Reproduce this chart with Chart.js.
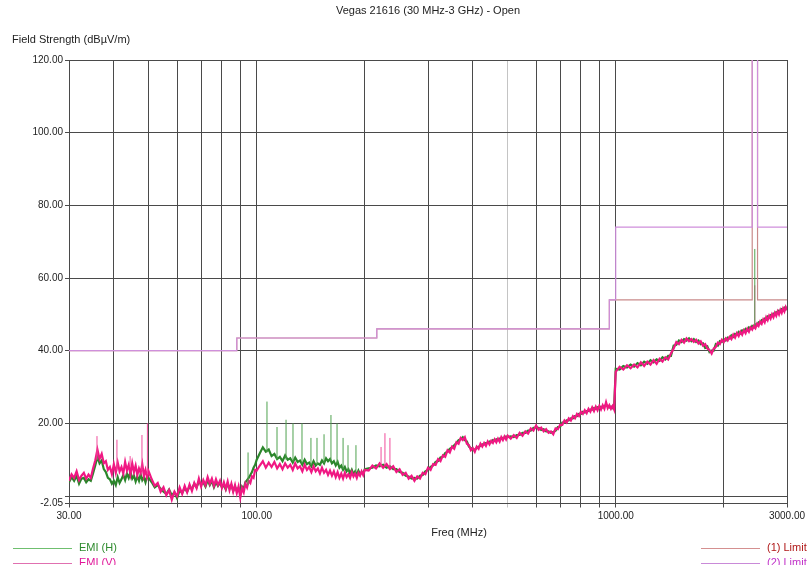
<!DOCTYPE html>
<html>
<head>
<meta charset="utf-8">
<title>Vegas 21616 (30 MHz-3 GHz) - Open</title>
<script src="https://cdn.jsdelivr.net/npm/chart.js@4.4.1/dist/chart.umd.min.js"></script>
<style>
  html, body { margin: 0; padding: 0; background: #fff; }
  #wrap { width: 811px; height: 565px; position: relative; }
</style>
</head>
<body>
<div id="wrap"><canvas id="emi" width="811" height="565"></canvas></div>
<script>
// Texts
const chartTitle = 'Vegas 21616 (30 MHz-3 GHz) - Open';
const yTitle = 'Field Strength (dBµV/m)';
const xTitle = 'Freq (MHz)';

// Sweep frequencies (MHz), one band per line
const freqMHz = [
  30, 30.5, 31, 31.5, 32, 32.5, 33, 33.5, 34, 34.5, 35, 35.5, 36, 36.5, 37, 37.5, 38, 38.5, 39, 39.5,
  40, 40.5, 41, 41.5, 42, 42.5, 43, 43.5, 44, 44.5, 45, 45.5, 46, 46.5, 47, 47.5, 48, 48.5, 49, 49.5, 50,
  51, 52, 53, 54, 55, 56, 57, 58, 59, 60, 61, 62, 63, 64, 65, 66, 67, 68, 69, 70,
  71, 72, 73, 74, 75, 76, 77, 78, 79, 80, 81, 82, 83, 84, 85, 86, 87, 88, 89, 90,
  91, 92, 93, 94, 95, 96, 97, 98, 99, 100,
  102, 104, 106, 108, 110, 112, 114, 116, 118, 120, 122, 124, 126, 128, 130, 132, 134, 136, 138, 140,
  142, 144, 146, 148, 150, 152, 154, 156, 158, 160, 162, 164, 166, 168, 170, 172, 174, 176, 178, 180,
  182, 184, 186, 188, 190, 192, 194, 196, 198, 200,
  205, 210, 215, 220, 225, 230, 235, 240, 245, 250, 255, 260, 265, 270, 275, 280, 285, 290, 295, 300,
  305, 310, 315, 320, 325, 330, 335, 340, 345, 350, 355, 360, 365, 370, 375, 380, 385, 390, 395, 400,
  405, 410, 415, 420, 425, 430, 435, 440, 445, 450, 455, 460, 465, 470, 475, 480, 485, 490, 495, 500,
  510, 520, 530, 540, 550, 560, 570, 580, 590, 600, 610, 620, 630, 640, 650, 660, 670, 680, 690, 700,
  710, 720, 730, 740, 750, 760, 770, 780, 790, 800, 810, 820, 830, 840, 850, 860, 870, 880, 890, 900,
  910, 920, 930, 940, 950, 960, 970, 980, 990,
  1000, 1025, 1050, 1075, 1100, 1125, 1150, 1175, 1200, 1225,
  1250, 1275, 1300, 1325, 1350, 1375, 1400, 1425, 1450, 1475,
  1500, 1525, 1550, 1575, 1600, 1625, 1650, 1675, 1700, 1725,
  1750, 1775, 1800, 1825, 1850, 1875, 1900, 1925, 1950, 1975,
  2000, 2025, 2050, 2075, 2100, 2125, 2150, 2175, 2200, 2225,
  2250, 2275, 2300, 2325, 2350, 2375, 2400, 2425, 2450, 2475,
  2500, 2525, 2550, 2575, 2600, 2625, 2650, 2675, 2700, 2725,
  2750, 2775, 2800, 2825, 2850, 2875, 2900, 2925, 2950, 2975,
  3000
];

// EMI (V) levels, dBµV/m
const emiV = [
  4.2, 6.0, 5.0, 6.8, 4.4, 5.6, 6.4, 4.8, 5.9, 5.0, 7.6, 9.8, 12.8, 10.2, 11.6, 9.0, 9.6, 7.2, 8.0, 6.0,
  8.8, 6.4, 9.2, 6.8, 8.0, 6.2, 9.4, 7.0, 8.6, 6.0, 9.0, 6.6, 8.4, 5.8, 7.6, 6.4, 8.8, 5.6, 7.2, 5.2, 6.8,
  4.6, 2.8, 3.6, 1.2, 2.4, 0.2, 1.6, -1.0, 1.2, 0.0, 2.4, 0.6, 2.8, 1.0, 3.2, 1.4, 3.6, 2.2, 4.8, 2.6,
  4.4, 3.0, 5.2, 3.4, 4.8, 2.8, 4.6, 3.0, 4.2, 2.2, 3.8, 2.0, 4.0, 1.6, 3.4, 1.2, 3.0, 0.8, 2.6, -0.4,
  2.2, 1.0, 3.4, 2.4, 4.2, 3.6, 5.4, 5.0, 7.2, 7.0,
  8.4, 9.6, 7.8, 9.2, 8.0, 9.4, 7.6, 8.8, 7.4, 9.0, 7.8, 8.6, 7.2, 9.0, 7.6, 8.2, 6.8, 8.6, 7.2, 8.0,
  6.6, 8.2, 6.8, 7.6, 6.2, 7.8, 6.4, 7.2, 5.8, 7.0, 5.6, 6.8, 5.2, 6.6, 5.0, 6.2, 4.8, 6.4, 5.2, 6.0,
  5.0, 6.6, 5.4, 6.2, 5.0, 6.4, 5.6, 6.8, 5.8, 7.2,
  7.0, 8.4, 7.6, 9.0, 7.8, 8.8, 7.4, 8.2, 6.6, 7.4, 5.8, 6.4, 4.8, 5.6, 4.2, 5.4, 4.8, 6.4, 6.0, 7.8,
  7.2, 8.8, 8.6, 10.2, 9.6, 11.2, 10.8, 12.6, 12.0, 13.6, 13.0, 14.8, 14.4, 16.0, 15.4, 16.2, 14.4, 14.0, 12.6, 13.2,
  12.2, 13.6, 13.0, 14.4, 13.6, 14.6, 13.8, 15.0, 14.2, 15.2, 14.6, 15.6, 14.8, 15.8, 15.0, 16.2, 15.4, 16.4, 15.6, 16.6,
  15.8, 16.8, 16.0, 17.4, 16.6, 17.8, 17.2, 18.6, 18.0, 19.4, 18.2, 18.8, 17.8, 18.4, 17.4, 17.8, 17.0, 18.6, 18.4, 19.6,
  19.6, 20.8, 20.2, 21.4, 20.8, 22.0, 21.4, 22.6, 22.0, 23.2, 22.6, 23.6, 22.8, 24.0, 23.2, 24.4, 23.4, 24.6, 23.6, 24.8,
  23.8, 25.0, 24.0, 25.8, 24.2, 25.0, 24.0, 24.8, 23.8,
  34.2, 35.6, 34.8, 36.0, 35.2, 36.2, 35.4, 36.8, 35.8, 37.0,
  36.2, 37.4, 36.4, 37.8, 37.0, 38.2, 37.6, 39.2, 40.6, 42.4,
  41.8, 43.0, 42.2, 43.4, 42.6, 43.2, 42.4, 43.0, 42.0, 42.6,
  41.4, 41.8, 40.6, 40.2, 39.2, 40.6, 41.0, 42.2, 41.8, 43.0,
  42.4, 43.4, 42.8, 43.8, 43.2, 44.4, 43.6, 44.8, 44.0, 45.2,
  44.4, 45.6, 44.8, 46.0, 45.2, 46.4, 45.8, 46.8, 46.2, 47.4,
  46.8, 48.0, 47.4, 48.6, 47.8, 49.2, 48.4, 49.6, 48.8, 50.0,
  49.2, 50.4, 49.6, 50.8, 50.0, 51.2, 50.4, 51.6, 50.8, 52.0,
  51.2
];

// EMI (H) levels, dBµV/m
const emiH = [
  3.8, 5.2, 4.2, 5.6, 3.4, 4.8, 5.0, 3.8, 4.6, 4.2, 6.2, 8.4, 10.8, 9.0, 9.8, 7.4, 6.6, 5.0, 4.6, 3.4,
  4.2, 3.0, 5.2, 3.6, 4.6, 5.8, 4.4, 6.2, 5.0, 6.6, 4.8, 5.6, 4.0, 5.4, 4.2, 6.0, 4.4, 5.2, 3.8, 5.4, 5.0,
  3.8, 2.4, 3.0, 2.0, 1.2, 0.6, 1.8, 0.2, 1.0, -0.6, 1.6, 0.8, 2.2, 1.2, 2.6, 2.0, 3.4, 2.4, 4.0, 3.2,
  3.8, 2.6, 4.4, 3.0, 4.2, 2.4, 3.8, 2.8, 3.6, 2.4, 3.0, 1.8, 3.4, 2.2, 3.0, 1.4, 2.6, 1.6, 2.2, 0.8,
  2.6, 2.0, 3.8, 4.4, 5.0, 5.8, 6.6, 7.8, 8.6, 10.0,
  11.8, 13.4, 12.2, 12.8, 11.0, 11.6, 10.2, 10.8, 9.6, 11.2, 10.0, 10.4, 9.2, 10.6, 9.4, 9.8, 8.6, 10.0, 8.8, 9.2,
  8.2, 9.6, 8.4, 9.0, 8.6, 9.8, 9.0, 10.4, 9.6, 10.2, 9.0, 9.6, 8.4, 9.4, 7.8, 8.4, 7.2, 8.0, 6.8, 7.4,
  6.2, 7.2, 6.0, 6.8, 5.8, 7.0, 6.0, 6.6, 6.2, 7.4,
  7.6, 7.8, 8.4, 8.2, 8.6, 7.8, 8.2, 7.4, 7.4, 6.6, 6.4, 5.6, 5.4, 4.8, 5.0, 4.8, 5.6, 5.8, 6.8, 7.2,
  8.0, 8.4, 9.4, 9.6, 10.6, 10.8, 11.8, 12.2, 13.0, 13.4, 14.0, 14.6, 15.4, 15.6, 16.2, 15.4, 15.0, 13.6, 13.2, 12.6,
  12.8, 13.2, 13.6, 13.8, 14.2, 14.2, 14.6, 14.6, 15.0, 14.8, 15.4, 15.2, 15.6, 15.4, 15.8, 15.8, 16.0, 16.0, 16.4, 16.2,
  16.4, 16.2, 16.8, 16.8, 17.4, 17.4, 18.0, 18.0, 18.8, 18.8, 18.8, 18.2, 18.4, 17.8, 17.8, 17.4, 17.6, 18.0, 19.0, 19.0,
  20.2, 20.2, 20.8, 20.8, 21.4, 21.4, 22.0, 22.0, 22.6, 22.6, 23.2, 23.0, 23.4, 23.4, 23.8, 23.8, 24.2, 24.0, 24.4, 24.2,
  24.6, 24.4, 24.8, 25.0, 24.8, 24.4, 24.6, 24.2, 24.4,
  35.0, 34.8, 35.8, 35.4, 36.2, 35.6, 36.6, 36.0, 37.0, 36.4,
  37.4, 36.8, 37.6, 37.2, 38.2, 37.6, 38.6, 38.6, 41.4, 41.6,
  42.8, 42.4, 43.2, 42.8, 43.4, 42.6, 43.2, 42.4, 42.8, 41.8,
  42.0, 40.8, 41.2, 39.6, 40.0, 40.0, 41.8, 41.4, 42.6, 42.4,
  43.2, 42.8, 43.6, 43.4, 44.2, 43.8, 44.6, 44.4, 45.2, 44.8,
  45.6, 45.4, 46.0, 45.6, 46.4, 46.0, 46.8, 46.4, 47.2, 47.0,
  47.8, 47.6, 48.4, 48.2, 48.8, 48.6, 49.4, 49.2, 49.8, 49.6,
  50.2, 50.0, 50.6, 50.4, 51.0, 50.8, 51.4, 51.2, 51.8, 51.4,
  52.0
];

// Narrow spikes: frequency, level at foot, level at top
const spikeFreqH = [94.6, 106.8, 113.9, 120.7, 126.2, 133.7, 141.6, 147.2, 154, 161, 167.4, 174, 179.6, 189, 2440];
const spikeFootH = [3, 12, 10, 10, 9.5, 9, 8.5, 8.5, 9, 9.5, 9, 7.5, 7, 6.5, 47];
const spikeTopH  = [12, 26, 19, 21, 20, 20, 16, 16, 17, 22.3, 20, 16, 14, 14, 68];

const spikeFreqV = [35.9, 40.8, 44.4, 47.9, 49.6, 222, 227.6, 235, 2440];
const spikeFootV = [10, 7, 8, 7, 6, 8, 8.5, 8, 47];
const spikeTopV  = [16.5, 15.5, 11, 16.8, 20, 13.5, 17.3, 16, 58];

// Limit lines
const limit1Freq  = [30, 88, 88, 216, 216, 960, 960, 2400, 2400, 2483.5, 2483.5, 3000];
const limit1Level = [40, 40, 43.5, 43.5, 46, 46, 54, 54, 125, 125, 54, 54];
const limit2Freq  = [30, 88, 88, 216, 216, 960, 960, 1000, 1000, 2400, 2400, 2483.5, 2483.5, 3000];
const limit2Level = [40, 40, 43.5, 43.5, 46, 46, 54, 54, 74, 74, 125, 125, 74, 74];

// Axis ticks
const xTicks = [30, 40, 50, 60, 70, 80, 90, 100, 200, 300, 400, 500, 600, 700, 800, 900, 1000, 2000, 3000];
const xLabelled = [30, 100, 1000, 3000];
const yTicks = [-2.05, 0, 20, 40, 60, 80, 100, 120];

const colH = '#2b862b';
const colV = '#f01883';
const colL1 = '#c98a8a';
const colL2 = '#cf8fdc';

function pts(xs, ys) {
  return xs.map((x, i) => ({ x: x, y: ys[i] }));
}
function spikes(xs, foot, top) {
  const out = [];
  xs.forEach((x, i) => {
    out.push({ x: x, y: foot[i] }, { x: x, y: top[i] }, { x: x, y: null });
  });
  return out;
}

const legendRows = [
  { side: 'left', row: 0, label: 'EMI (H)', line: '#6fbf6f', text: '#2e8b2e' },
  { side: 'left', row: 1, label: 'EMI (V)', line: '#e070b0', text: '#e0189a' },
  { side: 'right', row: 0, label: '(1) Limit', line: '#d49090', text: '#b01818' },
  { side: 'right', row: 1, label: '(2) Limit', line: '#c98ad8', text: '#c030c8' }
];

const decor = {
  id: 'decor',
  afterDraw(chart) {
    const c = chart.ctx;
    c.save();
    c.font = '11px "Liberation Sans", Arial, sans-serif';
    c.fillStyle = '#222';
    c.textBaseline = 'middle';
    c.textAlign = 'center';
    c.fillText(chartTitle, 428, 11);
    c.fillText(xTitle, 459, 533);
    c.textAlign = 'left';
    c.fillText(yTitle, 12, 40);

    legendRows.forEach(item => {
      const y = 548 + item.row * 15;
      const x0 = item.side === 'left' ? 13 : 701;
      c.strokeStyle = item.line;
      c.lineWidth = 1;
      c.beginPath();
      c.moveTo(x0, y + 0.5);
      c.lineTo(x0 + 59, y + 0.5);
      c.stroke();
      c.fillStyle = item.text;
      c.fillText(item.label, x0 + 66, y);
    });
    c.restore();
  }
};

const gridDark = '#4a4a4a';

new Chart(document.getElementById('emi'), {
  type: 'line',
  data: {
    datasets: [
      { label: 'EMI (H) spikes', data: spikes(spikeFreqH, spikeFootH, spikeTopH), borderColor: '#4fa24f', borderWidth: 1, spanGaps: false },
      { label: 'EMI (V) spikes', data: spikes(spikeFreqV, spikeFootV, spikeTopV), borderColor: '#f04c9c', borderWidth: 1, spanGaps: false },
      { label: 'EMI (V)', data: pts(freqMHz, emiV), borderColor: colV, borderWidth: 2.2 },
      { label: 'EMI (H)', data: pts(freqMHz, emiH), borderColor: colH, borderWidth: 2.2 },
      { label: '(2) Limit', data: pts(limit2Freq, limit2Level), borderColor: colL2, borderWidth: 1.2 },
      { label: '(1) Limit', data: pts(limit1Freq, limit1Level), borderColor: colL1, borderWidth: 1.2 }
    ]
  },
  options: {
    responsive: false,
    animation: false,
    parsing: false,
    normalized: true,
    elements: {
      point: { radius: 0, hoverRadius: 0 },
      line: { tension: 0, fill: false }
    },
    layout: { padding: { left: 0, right: 24, top: 60, bottom: 0 } },
    plugins: {
      legend: { display: false },
      title: { display: false },
      tooltip: { enabled: false }
    },
    scales: {
      x: {
        type: 'logarithmic',
        min: 30,
        max: 3000,
        afterBuildTicks: scale => { scale.ticks = xTicks.map(v => ({ value: v })); },
        afterFit: scale => { scale.height = 61.5; },
        grid: {
          color: ctx => (ctx.tick && ctx.tick.value === 500 ? '#c4c4c4' : gridDark),
          lineWidth: 1,
          tickLength: 4
        },
        border: { color: gridDark },
        ticks: {
          autoSkip: false,
          maxRotation: 0,
          padding: 3,
          color: '#222',
          font: { family: '"Liberation Sans", Arial, sans-serif', size: 10 },
          callback: v => (xLabelled.includes(v) ? v.toFixed(2) : '')
        }
      },
      y: {
        type: 'linear',
        min: -2.05,
        max: 120,
        afterBuildTicks: scale => { scale.ticks = yTicks.map(v => ({ value: v })); },
        afterFit: scale => { scale.width = 69; },
        grid: { color: gridDark, lineWidth: 1, tickLength: 4 },
        border: { color: gridDark },
        ticks: {
          padding: 2,
          color: '#222',
          font: { family: '"Liberation Sans", Arial, sans-serif', size: 10 },
          callback: v => (v === 0 ? '' : v.toFixed(2))
        }
      }
    }
  },
  plugins: [decor]
});
</script>
</body>
</html>
